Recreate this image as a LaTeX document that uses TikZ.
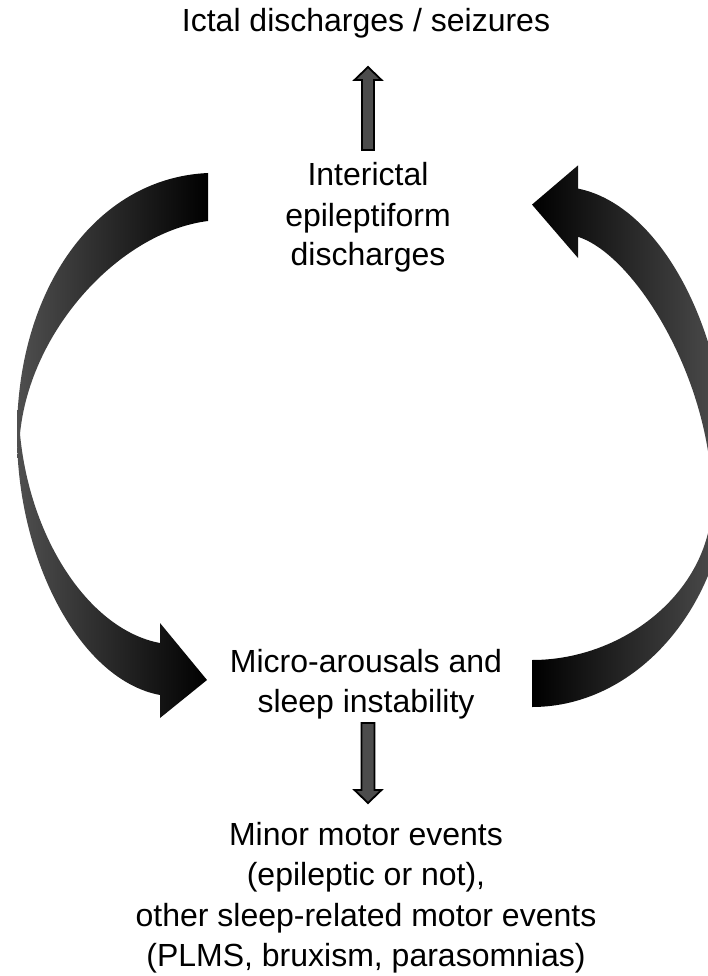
\documentclass[tikz,border=0pt]{standalone}
\usepackage{fontspec}
\setmainfont{Liberation Sans}
\usetikzlibrary{calc}
\begin{document}
\begin{tikzpicture}[x=1pt,y=-1pt,
  lbl/.style={anchor=base, inner sep=0pt, font=\fontsize{32}{40}\selectfont, text=black},
  bigL/.style={left color=gray!62!black, right color=black},
  bigR/.style={left color=black, right color=gray!62!black},
  smallarrow/.style={fill=black!70, draw=black, line width=1.8pt, line join=miter}
]
\path[use as bounding box] (0,0) rectangle (708,976);
\clip (0,0) rectangle (708,976);

% texts
\node[lbl] (title) at (366,32) {Ictal discharges / seizures};
\node[lbl] (i1) at (368,186) {Interictal};
\node[lbl] (i2) at (368,226) {epileptiform};
\node[lbl] (i3) at (368,265) {discharges};
\node[lbl] (m1) at (366,672) {Micro-arousals and};
\node[lbl] (m2) at (366,712) {sleep instability};
\node[lbl] (b1) at (366,845) {Minor motor events};
\node[lbl] (b2) at (366,885) {(epileptic or not),};
\node[lbl] (b3) at (366,926) {other sleep-related motor events};
\node[lbl] (b4) at (366,966) {(PLMS, bruxism, parasomnias)};

% small arrows
\coordinate (upS) at (368,150);
\coordinate (upT) at (368,67);
\draw[smallarrow] ($(upS)+(-6,0)$) -- ($(upT)+(-6,13)$) -- ($(upT)+(-13.5,13)$) -- (upT)
  -- ($(upT)+(13.5,13)$) -- ($(upT)+(6,13)$) -- ($(upS)+(6,0)$) -- cycle;

\coordinate (dnS) at (368,723);
\coordinate (dnT) at (368,803);
\draw[smallarrow] ($(dnS)+(-6.5,0)$) -- ($(dnT)+(-6.5,-13)$) -- ($(dnT)+(-13.5,-13)$) -- (dnT)
  -- ($(dnT)+(13.5,-13)$) -- ($(dnT)+(6.5,-13)$) -- ($(dnS)+(6.5,0)$) -- cycle;

% big curved arrow, left (interictal -> micro-arousals)
\shade[bigL] (208,173) .. controls (95,178) and (17,290) .. (17,434)
  .. controls (17,560) and (80,680) .. (160,695)
  -- (160,718) -- (207,680) -- (160,623) -- (160,643)
  .. controls (90,630) and (30,540) .. (20,434)
  .. controls (30,330) and (120,232) .. (208,221) -- cycle;

% big curved arrow, right (micro-arousals -> interictal)
\shade[bigR] (532,707) .. controls (640,707) and (728,600) .. (728,475)
  .. controls (728,330) and (660,205) .. (578,188.6)
  -- (578,165.4) -- (532,204.6) -- (578,258) -- (578,236.8)
  .. controls (635,255) and (712,380) .. (712,500)
  .. controls (712,590) and (625,660) .. (532,660) -- cycle;
\end{tikzpicture}
\end{document}
